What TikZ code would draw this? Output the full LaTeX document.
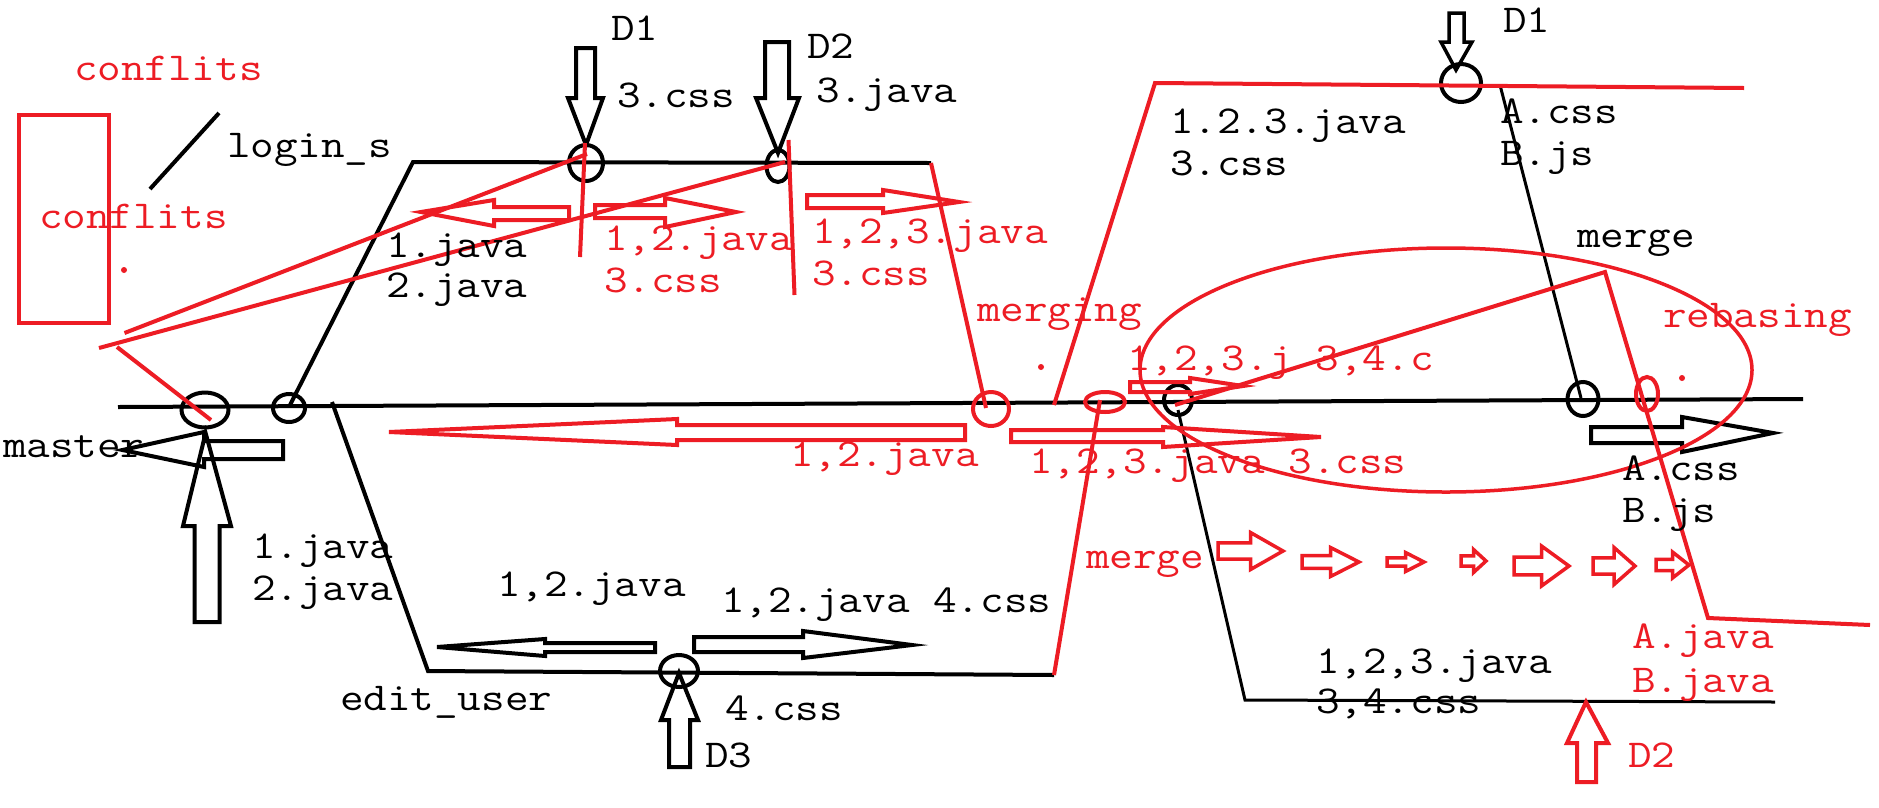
\documentclass[tikz,border=0pt]{standalone}
\usepackage{fontspec}
\newfontfamily\courf{Latin Modern Mono}[FakeStretch=1.16]
\usetikzlibrary{shapes.geometric}
\definecolor{pred}{HTML}{ED1C24}
\tikzset{
  txt/.style={font=\courf\fontsize{39.5}{42}\selectfont, inner sep=0pt, outer sep=0pt, anchor=base west},
  rtxt/.style={txt, text=pred},
  bl/.style={draw=black, line width=4pt, line join=miter},
  blthin/.style={draw=black, line width=3pt},
  rl/.style={draw=pred, line width=4pt, line join=miter},
  barrow/.style={draw=black, line width=4pt, line join=miter},
  rarrow/.style={draw=pred, line width=4pt, line join=miter},
  commit/.style={draw=black, line width=4pt, ellipse, inner sep=0pt},
  rcommit/.style={draw=pred, line width=4pt, ellipse, inner sep=0pt},
}
\newcommand\mgarrow[4]{\draw[rarrow, line width=3.5pt] ({#1},{#3-0.22*#4}) -- ({(#1+#2)/2},{#3-0.22*#4}) -- ({(#1+#2)/2},{#3-0.5*#4}) -- ({#2},{#3}) -- ({(#1+#2)/2},{#3+0.5*#4}) -- ({(#1+#2)/2},{#3+0.22*#4}) -- ({#1},{#3+0.22*#4}) -- cycle;}
\begin{document}
\begin{tikzpicture}[x=1pt,y=-1pt]
\fill[white] (0,0) rectangle (1879,807);
\useasboundingbox (0,0) rectangle (1879,807);

% ---------- named points ----------
\coordinate (mL) at (118,407);
\coordinate (mR) at (1803,399);
\coordinate (lsA) at (289,407);
\coordinate (lsB) at (413,162);
\coordinate (lsC) at (931,163);
\coordinate (euA) at (332,402);
\coordinate (euB) at (428,671);
\coordinate (euC) at (1054,675);
\coordinate (euD) at (1100,400);
\coordinate (mgA) at (986,408);
\coordinate (rbA) at (1054,405);
\coordinate (rbB) at (1155,83);
\coordinate (rbC) at (1744,88);
\coordinate (tA) at (1500,85);
\coordinate (tB) at (1581,398);
\coordinate (bA) at (1178,410);
\coordinate (bB) at (1245,700);
\coordinate (bC) at (1775,702);
\coordinate (rA) at (1175,405);
\coordinate (rB) at (1605,272);
\coordinate (rC) at (1708,618);
\coordinate (rD) at (1870,625);

% ---------- black branches ----------
\draw[bl] (mL) -- (mR);
\draw[bl] (lsA) -- (lsB) -- (lsC);
\draw[bl] (euA) -- (euB) -- (euC);
\draw[blthin] (tA) -- (tB);
\draw[blthin] (bA) -- (bB) -- (bC);
\draw[bl] (219,113) -- (150,189);

% ---------- black commits ----------
\node[commit, minimum width=47pt, minimum height=35pt] (c1) at (205,410) {};
\node[commit, minimum width=32pt, minimum height=28pt] (c2) at (289,408) {};
\node[commit, minimum width=34pt, minimum height=36pt] (cD1) at (586,163) {};
\node[commit, minimum width=23pt, minimum height=32pt] (cD2) at (778,166) {};
\node[commit, minimum width=38pt, minimum height=32pt] (cD3) at (679,671) {};
\node[commit, minimum width=28pt, minimum height=30pt] (cM) at (1178,400) {};
\node[commit, minimum width=31pt, minimum height=34pt] (cR) at (1583,399) {};
\node[commit, minimum width=40pt, minimum height=38pt] (cT) at (1461,83) {};

% ---------- black hollow arrows ----------
\draw[barrow] (576,48)--(595,48)--(595,98)--(603,98)--(586,145)--(568,98)--(576,98)--cycle;
\draw[barrow] (765,42)--(789,42)--(789,98)--(799,98)--(778,153)--(756,98)--(765,98)--cycle;
\draw[barrow, line width=3.5pt] (1449,13)--(1464,13)--(1464,42)--(1472,42)--(1456,70)--(1441,42)--(1449,42)--cycle;
\draw[barrow] (194.5,622)--(219.5,622)--(219.5,526)--(231,526)--(205.6,433)--(183,526)--(194.5,526)--cycle;
\draw[barrow] (669,767)--(690,767)--(690,720)--(698,720)--(679,673)--(661,720)--(669,720)--cycle;
\draw[barrow] (283,441)--(204,441)--(204,432)--(122.5,450)--(204,467)--(204,459)--(283,459)--cycle;
\draw[barrow] (655,643)--(545,643)--(545,639)--(437,647)--(545,656)--(545,652)--(655,652)--cycle;
\draw[barrow] (694,637)--(803,637)--(803,631)--(912,645)--(803,658)--(803,652)--(694,652)--cycle;
\draw[barrow] (1591,427)--(1682,427)--(1682,417)--(1773,433)--(1682,452)--(1682,443)--(1591,443)--cycle;

% ---------- red lines ----------
\draw[rl] (lsC) -- (mgA);
\draw[rl] (euC) -- (euD);
\draw[rl] (rbA) -- (rbB) -- (rbC);
\draw[rl] (rA) -- (rB) -- (rC) -- (rD);
\draw[rl] (19,115) rectangle (109,323);
\draw[rl] (124.5,333) -- (587,154);
\draw[rl] (99,348) -- (785,162);
\draw[rl] (117,347) -- (211,420);
\draw[rl] (585,143) -- (580,257);
\draw[rl] (788.5,140) -- (794.5,295);

% ---------- red commits / ellipses ----------
\node[rcommit, minimum width=36pt, minimum height=34pt] (rc1) at (991,409) {};
\node[rcommit, minimum width=40pt, minimum height=20pt] (rc2) at (1105,402) {};
\node[rcommit, minimum width=22pt, minimum height=34pt] (rc3) at (1647,394) {};
\node[rcommit, line width=3.5pt, minimum width=612pt, minimum height=244pt] (big) at (1446,370) {};

% red dots
\fill[pred] (124,270) circle (3pt);
\fill[pred] (1041,367) circle (3pt);
\fill[pred] (1682,378) circle (3pt);

% ---------- red hollow arrows ----------
\draw[rarrow] (569,207)--(494,207)--(494,200)--(421,212)--(494,226)--(494,220)--(569,220)--cycle;
\draw[rarrow] (595,205)--(665,205)--(665,198)--(736,212)--(665,227)--(665,218)--(595,218)--cycle;
\draw[rarrow] (807,195)--(883,195)--(883,190)--(959,202)--(883,213)--(883,208)--(807,208)--cycle;
\draw[rarrow] (965,425)--(677,425)--(677,419)--(389,432)--(677,445)--(677,440)--(965,440)--cycle;
\draw[rarrow] (1011,430)--(1163,430)--(1163,427)--(1321,437)--(1163,447)--(1163,442)--(1011,442)--cycle;
\draw[rarrow] (1130,382)--(1190,382)--(1190,378)--(1243,386)--(1190,394)--(1190,392)--(1130,392)--cycle;
\draw[rarrow] (1577,782)--(1596,782)--(1596,743)--(1608,743)--(1586,702)--(1567,743)--(1577,743)--cycle;

\mgarrow{1218}{1283}{551}{37}
\mgarrow{1302}{1359}{562}{29}
\mgarrow{1387}{1424}{562}{19}
\mgarrow{1461}{1486}{561}{23}
\mgarrow{1514}{1569}{566}{40}
\mgarrow{1593}{1635}{566}{37}
\mgarrow{1656}{1689}{565}{26}

% ---------- black texts ----------
\node[txt] (tlogin) at (227,157) {login\_s};
\node[txt] (tD1) at (611,40) {D1};
\node[txt] (t3css) at (617,107) {3.css};
\node[txt] (tD2) at (807,58) {D2};
\node[txt] (t3java) at (816,102) {3.java};
\node[txt] (t1j) at (386,257) {1.java};
\node[txt] (t2j) at (386,297) {2.java};
\node[txt] (tmaster) at (3,457) {master};
\node[txt] (tl1j) at (252,558) {1.java};
\node[txt] (tl2j) at (252,600) {2.java};
\node[txt] (t12j) at (497,596) {1,2.java};
\node[txt] (t12j4) at (721,612) {1,2.java 4.css};
\node[txt] (tedit) at (340,710) {edit\_user};
\node[txt] (t4css) at (725,720) {4.css};
\node[txt] (tD3) at (705,767) {D3};
\node[txt] (t123a) at (1170,133) {1.2.3.java};
\node[txt] (t123b) at (1170,175) {3.css};
\node[txt] (tD1r) at (1503,32) {D1};
\node[txt] (tAcss) at (1500,123) {A.css};
\node[txt] (tBjs) at (1500,165) {B.js};
\node[txt] (tmerge) at (1577,247) {merge};
\node[txt] (tAcss2) at (1622,480) {A.css};
\node[txt] (tBjs2) at (1622,522) {B.js};
\node[txt] (tb1) at (1316,673) {1,2,3.java};
\node[txt] (tb2) at (1316,713) {3,4.css};

% ---------- red texts ----------
\node[rtxt] (tconf1) at (74,80) {conflits};
\node[rtxt] (tconf2) at (39,228) {conflits};
\node[rtxt] (tr1) at (604,250) {1,2.java};
\node[rtxt] (tr2) at (604,292) {3.css};
\node[rtxt] (tr3) at (812,243) {1,2,3.java};
\node[rtxt] (tr4) at (812,285) {3.css};
\node[rtxt] (tmerging) at (977,321) {merging};
\node[rtxt] (tr5) at (1127,370) {1,2,3.j 3,4.c};
\node[rtxt] (trebase) at (1663,327) {rebasing};
\node[rtxt] (tr6) at (790,466) {1,2.java};
\node[rtxt] (tr7) at (1029,473) {1,2,3.java 3.css};
\node[rtxt] (tmerge2) at (1086,568) {merge};
\node[rtxt] (tAj) at (1632,648) {A.java};
\node[rtxt] (tBj) at (1632,692) {B.java};
\node[rtxt] (tD2r) at (1628,767) {D2};
\end{tikzpicture}
\end{document}
